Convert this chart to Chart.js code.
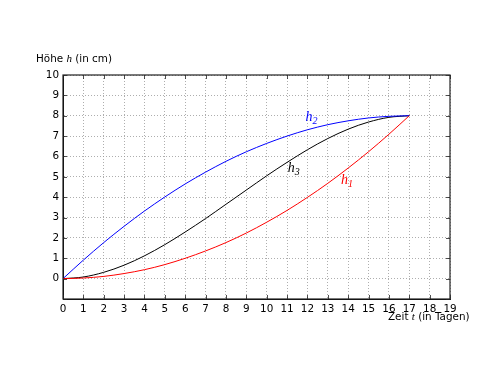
<!DOCTYPE html>
<html>
<head>
<meta charset="utf-8">
<script src="https://cdn.jsdelivr.net/npm/chart.js@4"></script>
<style>
  body { margin: 0; background: #fff; }
  canvas { display: block; }
</style>
</head>
<body>
<canvas id="chart" width="500" height="375"></canvas>
<script>
// values, one per day
const days = [0, 1, 2, 3, 4, 5, 6, 7, 8, 9, 10, 11, 12, 13, 14, 15, 16, 17];
const h1 = [0, 0.03, 0.11, 0.25, 0.44, 0.69, 1.00, 1.36, 1.77, 2.24, 2.77, 3.35, 3.99, 4.68, 5.43, 6.23, 7.09, 8];
const h2 = [0, 0.91, 1.77, 2.57, 3.32, 4.01, 4.65, 5.23, 5.76, 6.23, 6.64, 7.00, 7.31, 7.56, 7.75, 7.89, 7.97, 8];
const h3 = [0, 0.08, 0.31, 0.66, 1.12, 1.67, 2.29, 2.95, 3.65, 4.35, 5.05, 5.71, 6.33, 6.88, 7.34, 7.69, 7.92, 8];

const seriesNames = ["h1", "h2", "h3"];
const seriesColors = ["#ff0000", "#0000ff", "#000000"];

// curve labels: [subscript, day, height]
const curveLabels = [
    ["1", 13.65, 4.67],
    ["2", 11.9, 7.76],
    ["3", 11.04, 5.26]
];

const sansFont = "DejaVu Sans";
const mathFont = "'Liberation Serif', 'DejaVu Serif', serif";

// draw a row of text parts with different fonts, left aligned
function drawParts(ctx, parts, x, y) {
    parts.forEach(([text, font, dy]) => {
        ctx.font = font;
        ctx.fillText(text, x, y + (dy || 0));
        x += ctx.measureText(text).width;
    });
}

const annotate = {
    id: "annotate",
    afterDraw(chart) {
        const { ctx, chartArea: a, scales: { x, y } } = chart;
        ctx.save();

        // frame around the plot, with small inward ticks like matplotlib
        ctx.strokeStyle = "#222";
        ctx.lineWidth = 1.2;
        ctx.strokeRect(a.left, a.top, a.right - a.left, a.bottom - a.top);
        ctx.lineWidth = 0.8;
        ctx.beginPath();
        x.ticks.forEach(t => {
            const px = Math.round(x.getPixelForValue(t.value)) + 0.5;
            ctx.moveTo(px, a.bottom); ctx.lineTo(px, a.bottom - 4);
            ctx.moveTo(px, a.top); ctx.lineTo(px, a.top + 4);
        });
        y.ticks.forEach(t => {
            const py = Math.round(y.getPixelForValue(t.value)) + 0.5;
            ctx.moveTo(a.left, py); ctx.lineTo(a.left + 4, py);
            ctx.moveTo(a.right, py); ctx.lineTo(a.right - 4, py);
        });
        ctx.stroke();

        ctx.textBaseline = "alphabetic";
        ctx.textAlign = "left";

        // curve names
        curveLabels.forEach(([sub, day, height], i) => {
            ctx.fillStyle = seriesColors[i];
            drawParts(ctx, [
                ["h", `italic 14px ${mathFont}`],
                [sub, `italic 10px ${mathFont}`, 3]
            ], x.getPixelForValue(day), y.getPixelForValue(height));
        });

        // axis titles
        ctx.fillStyle = "#000";
        drawParts(ctx, [
            ["Höhe ", `10.4px ${sansFont}`],
            ["h", `italic 11px ${mathFont}`],
            [" (in cm)", `10.4px ${sansFont}`]
        ], 36, 62);
        drawParts(ctx, [
            ["Zeit ", `10.4px ${sansFont}`],
            ["t", `italic 11px ${mathFont}`],
            [" (in Tagen)", `10.4px ${sansFont}`]
        ], 388, 320);

        ctx.restore();
    }
};

const tickFont = { family: sansFont, size: 10.4 };

const config = {
    type: "line",
    data: {
        datasets: seriesNames.map((name, i) => ({
            label: name,
            data: days.map((d, j) => ({ x: d, y: [h1, h2, h3][i][j] })),
            borderColor: seriesColors[i],
            borderWidth: 1,
            pointRadius: 0,
            fill: false,
            cubicInterpolationMode: "monotone"
        }))
    },
    options: {
        responsive: false,
        animation: false,
        layout: {
            padding: { top: 75, right: 50, left: 0, bottom: 0 }
        },
        plugins: {
            legend: { display: false },
            tooltip: { enabled: false }
        },
        scales: {
            x: {
                type: "linear",
                min: 0,
                max: 19,
                ticks: { stepSize: 1, color: "#000", font: tickFont, padding: 4 },
                grid: { color: "#999", lineWidth: 0.8, drawTicks: false },
                border: { color: "#000", dash: [1, 2] },
                afterFit: scale => { scale.height = 76; }
            },
            y: {
                min: -1,
                max: 10,
                ticks: {
                    stepSize: 1,
                    color: "#000",
                    font: tickFont,
                    padding: 4,
                    callback: v => v < 0 ? "" : v
                },
                grid: {
                    color: c => c.tick && c.tick.value < 0 ? "rgba(0,0,0,0)" : "#999",
                    lineWidth: 0.8,
                    drawTicks: false
                },
                border: { color: "#000", dash: [1, 2] },
                afterFit: scale => { scale.width = 63; }
            }
        }
    },
    plugins: [annotate]
};

new Chart(document.getElementById("chart").getContext("2d"), config);
</script>
</body>
</html>
